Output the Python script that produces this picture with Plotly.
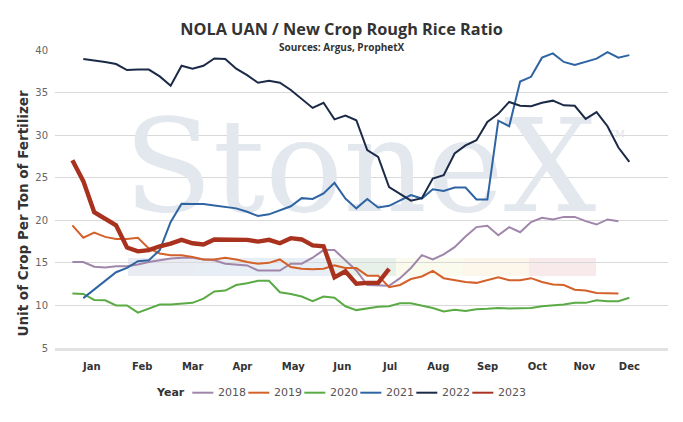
import plotly.graph_objects as go

# ---------------- data (weekly ratio) ----------------
years = ["2018", "2019", "2020", "2021", "2022", "2023"]
colors = ["#a086ab", "#d4602a", "#5aab45", "#2f64a3", "#1b2a47", "#a9321f"]

weeks_2018 = list(range(1, 52))
y_2018 = [15.1, 15.1, 14.55, 14.45, 14.6, 14.6, 14.8, 15.1, 15.3, 15.5,
          15.6, 15.6, 15.4, 15.3, 14.9, 14.8, 14.7, 14.1, 14.1, 14.1,
          14.9, 14.9, 15.6, 16.5, 16.5, 15.3, 14.1, 12.4, 12.35, 12.3,
          13.2, 14.4, 15.9, 15.4, 16.0, 16.85, 18.1, 19.2, 19.35, 18.25,
          19.2, 18.6, 19.8, 20.3, 20.1, 20.4, 20.4, 19.9, 19.5, 20.1, 19.9]

weeks_2019 = list(range(1, 52))
y_2019 = [19.4, 17.95, 18.55, 18.05, 17.8, 17.8, 17.95, 16.7, 16.1, 15.9,
          15.9, 15.7, 15.4, 15.4, 15.6, 15.4, 15.1, 14.9, 15.0, 15.4,
          14.5, 14.3, 14.25, 14.3, 14.7, 14.4, 14.4, 13.5, 13.5, 12.15,
          12.4, 13.1, 13.4, 14.05, 13.2, 13.0, 12.75, 12.65, 12.95, 13.3,
          12.95, 12.95, 13.2, 12.75, 12.45, 12.4, 11.85, 11.75, 11.45, 11.4, 11.4]

weeks_2020 = list(range(1, 53))
y_2020 = [11.4, 11.35, 10.65, 10.6, 10.0, 10.0, 9.15, 9.6, 10.1, 10.1,
          10.2, 10.3, 10.8, 11.65, 11.75, 12.4, 12.6, 12.9, 12.9, 11.55,
          11.35, 11.05, 10.5, 11.05, 10.9, 9.9, 9.45, 9.65, 9.85, 9.9,
          10.25, 10.25, 10.0, 9.7, 9.3, 9.5, 9.35, 9.55, 9.6, 9.7,
          9.65, 9.65, 9.7, 9.9, 10.0, 10.1, 10.3, 10.3, 10.6, 10.5, 10.5, 10.9]

weeks_2021 = list(range(2, 53))
y_2021 = [10.86, 11.9, 12.9, 13.9, 14.4, 15.2, 15.3, 16.5, 19.8, 21.95,
          21.9, 21.9, 21.75, 21.55, 21.4, 21.0, 20.5, 20.7, 21.2, 21.65,
          22.6, 22.5, 23.15, 24.4, 22.55, 21.4, 22.5, 21.5, 21.7, 22.35,
          22.95, 22.55, 23.65, 23.45, 23.85, 23.85, 22.45, 22.45, 31.7, 31.05,
          36.3, 36.85, 39.1, 39.6, 38.6, 38.25, 38.6, 38.98, 39.76, 39.1, 39.4]

weeks_2022 = list(range(2, 53))
y_2022 = [38.94, 38.8, 38.6, 38.35, 37.65, 37.7, 37.7, 36.9, 35.8, 38.15,
          37.8, 38.15, 39.0, 38.95, 37.8, 37.05, 36.15, 36.4, 36.15, 35.3,
          34.2, 33.2, 33.8, 31.85, 32.3, 31.75, 28.25, 27.45, 23.9, 23.1,
          22.3, 22.6, 24.9, 25.3, 27.85, 28.8, 29.4, 31.55, 32.5, 33.9,
          33.45, 33.4, 33.8, 34.05, 33.5, 33.45, 31.9, 32.7, 31.05, 28.55, 26.85]

weeks_2023 = list(range(1, 31))
y_2023 = [27.05, 24.6, 20.95, 20.1, 19.4, 16.8, 16.35, 16.5, 16.95, 17.25,
          17.7, 17.3, 17.15, 17.75, 17.75, 17.75, 17.7, 17.5, 17.7, 17.3,
          17.9, 17.75, 17.05, 16.95, 13.3, 14.0, 12.55, 12.65, 12.65, 14.3]

month_labels = ["Jan", "Feb", "Mar", "Apr", "May", "Jun",
                "Jul", "Aug", "Sep", "Oct", "Nov", "Dec"]
month_pos = [2.77, 7.40, 12.02, 16.56, 21.23, 25.72,
             30.09, 34.51, 39.03, 43.58, 47.88, 52.0]

y_ticks = [5, 10, 15, 20, 25, 30, 35, 40]

series_x = [weeks_2018, weeks_2019, weeks_2020, weeks_2021, weeks_2022, weeks_2023]
series_y = [y_2018, y_2019, y_2020, y_2021, y_2022, y_2023]
widths = [2, 2, 2, 2, 2, 4.4]

# ---------------- layout geometry (pixels) ----------------
W, H = 683, 422
L, R, T, B = 55, 15, 50, 74
PW, PH = W - L - R, H - T - B


def xp(px):
    return (px - L) / PW


def yp(py):
    return (H - B - py) / PH


fig = go.Figure()

# watermark (drawn first so every series sits on top of it)
fig.add_trace(go.Scatter(x=[27.34], y=[24.9], mode="text", text=["StoneX"],
                         textposition="middle center",
                         textfont=dict(family="DejaVu Serif", size=130, color="#e3e7ee"),
                         hoverinfo="skip", showlegend=False))
fig.add_trace(go.Scatter(x=[50.8], y=[29.7], mode="text", text=["™"],
                         textposition="middle center",
                         textfont=dict(family="Liberation Serif", size=18, color="#e3e7ee"),
                         hoverinfo="skip", showlegend=False))

for name, col, xs, ys, w in zip(years, colors, series_x, series_y, widths):
    fig.add_trace(go.Scatter(x=xs, y=ys, mode="lines", name=name,
                             line=dict(color=col, width=w),
                             showlegend=False, hoverinfo="skip"))

shapes = []
# watermark colour bar
bar_segments = [(128, 195, "#e9edf3"), (195, 329, "#e8eef6"), (329, 396, "#e8f0ea"),
                (396, 463, "#fbfbed"), (463, 529, "#fdf6ea"), (529, 596, "#f8e9eb")]
for x0, x1, c in bar_segments:
    shapes.append(dict(type="rect", xref="paper", yref="paper",
                       x0=xp(x0), x1=xp(x1), y0=yp(276), y1=yp(258),
                       fillcolor=c, line=dict(width=0), layer="below"))

annotations = []
# y-axis title
annotations.append(dict(xref="paper", yref="paper", x=xp(22), y=yp(213.5),
                        text="<b>Unit of Crop Per Ton of Fertilizer</b>", textangle=-90,
                        showarrow=False, xanchor="center", yanchor="middle",
                        font=dict(family="DejaVu Sans", size=13.5, color="#333333")))
# subtitle
annotations.append(dict(xref="paper", yref="paper", x=xp(342), y=yp(47),
                        text="<b>Sources: Argus, ProphetX</b>", showarrow=False,
                        xanchor="center", yanchor="middle",
                        font=dict(family="Open Sans", size=10, color="#333333")))

# legend (manual, compact like the reference)
leg_y = yp(392.7)
annotations.append(dict(xref="paper", yref="paper", x=xp(187), y=leg_y,
                        text="<b>Year</b>", showarrow=False, xanchor="right", yanchor="middle",
                        font=dict(family="DejaVu Sans", size=11, color="#333333")))
for i, (name, col) in enumerate(zip(years, colors)):
    lx0 = 192.3 + 56 * i
    shapes.append(dict(type="line", xref="paper", yref="paper",
                       x0=xp(lx0), x1=xp(lx0 + 21), y0=leg_y, y1=leg_y,
                       line=dict(color=col, width=2)))
    annotations.append(dict(xref="paper", yref="paper", x=xp(lx0 + 23.5), y=leg_y,
                            text=name, showarrow=False, xanchor="left", yanchor="middle",
                            font=dict(family="DejaVu Sans", size=11, color="#555555")))

fig.update_layout(
    width=W, height=H,
    margin=dict(l=L, r=R, t=T, b=B, pad=0),
    paper_bgcolor="white", plot_bgcolor="white",
    title=dict(text="<b>NOLA UAN / New Crop Rough Rice Ratio</b>",
               x=0.5, xanchor="center", y=1 - 29 / H, yanchor="middle",
               font=dict(family="Open Sans", size=16.3, color="#333333")),
    xaxis=dict(range=[-0.592, 55.54], tickmode="array", tickvals=month_pos,
               ticktext=["<b>%s</b>" % m for m in month_labels],
               tickfont=dict(family="DejaVu Sans", size=10, color="#333333"),
               showgrid=False, zeroline=False, showline=True,
               linecolor="#e2e2e2", linewidth=2.5, ticks="", ticklabelstandoff=7),
    yaxis=dict(range=[5, 40], tickmode="array", tickvals=y_ticks,
               tickfont=dict(family="DejaVu Sans", size=10, color="#666666"),
               showgrid=True, gridcolor="#d9d9d9", gridwidth=1,
               zeroline=False, showline=False, ticks="", ticklabelstandoff=6),
    shapes=shapes, annotations=annotations, showlegend=False,
)

fig.write_html("out.html", config={"displayModeBar": False},
               post_script="document.body.style.margin='0';document.body.style.padding='0';")
